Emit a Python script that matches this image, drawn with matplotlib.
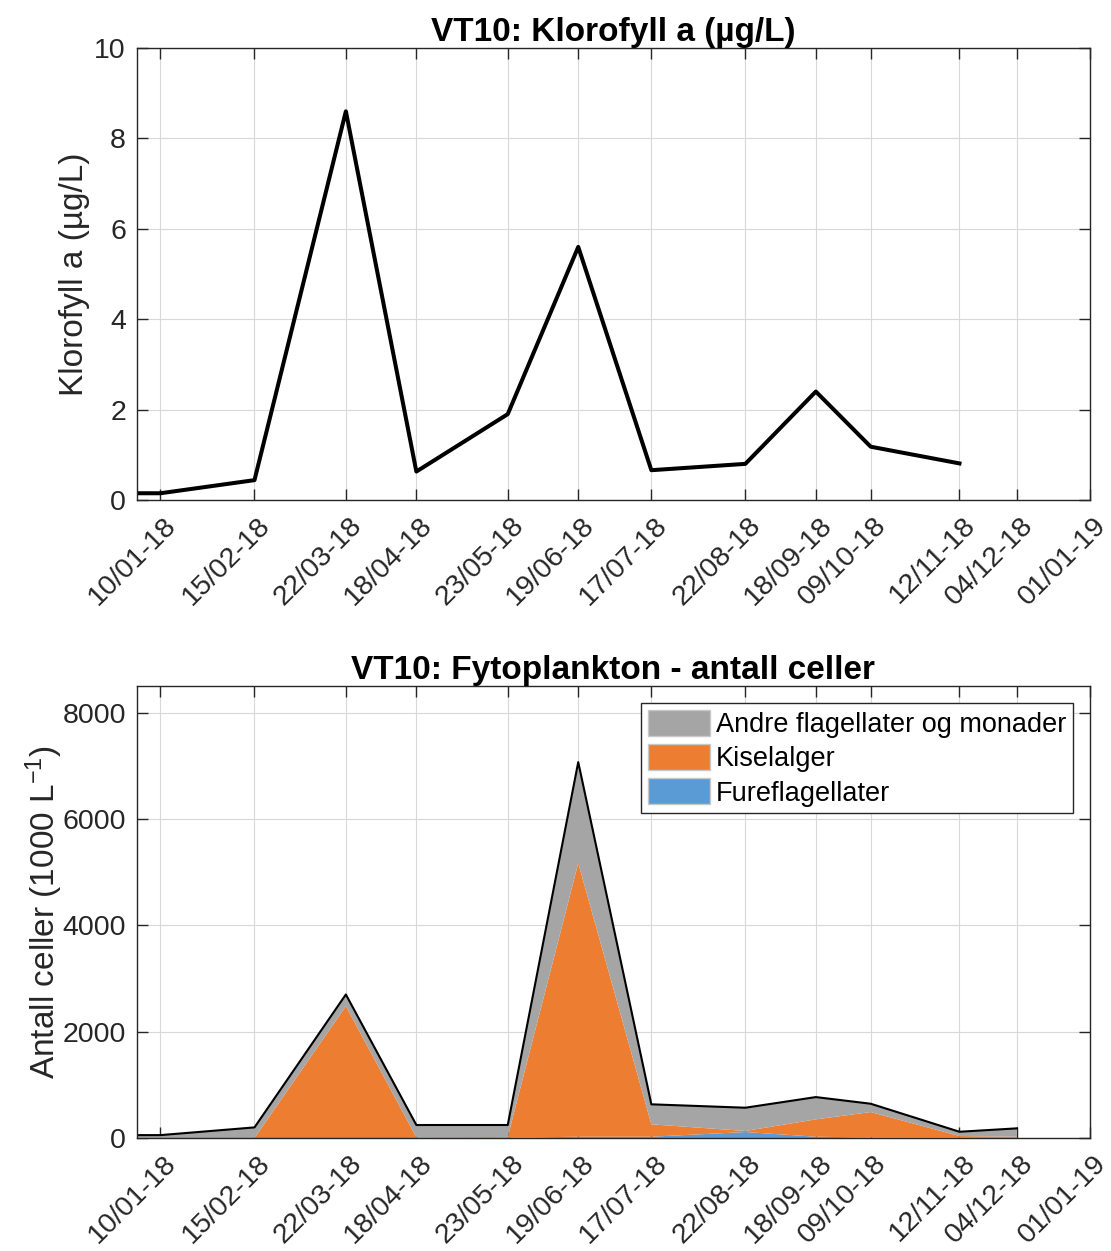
import matplotlib
matplotlib.use("Agg")
from matplotlib import pyplot as plt
from matplotlib.patches import Patch
import matplotlib.transforms as mtransforms
import numpy as np
import datetime as dt

plt.rcParams['font.family'] = ['Liberation Sans', 'DejaVu Sans']
plt.rcParams['mathtext.default'] = 'regular'

# sample dates (first point sits at the left edge of the axis)
dates = [dt.datetime(2018, 1, 1), dt.datetime(2018, 1, 10), dt.datetime(2018, 2, 15),
         dt.datetime(2018, 3, 22), dt.datetime(2018, 4, 18), dt.datetime(2018, 5, 23),
         dt.datetime(2018, 6, 19), dt.datetime(2018, 7, 17), dt.datetime(2018, 8, 22),
         dt.datetime(2018, 9, 18), dt.datetime(2018, 10, 9), dt.datetime(2018, 11, 12),
         dt.datetime(2018, 12, 4)]

# chlorophyll a (ug/L), no value for 04/12
chl = [0.15, 0.15, 0.44, 8.6, 0.63, 1.9, 5.6, 0.66, 0.8, 2.4, 1.18, 0.81, np.nan]

# phytoplankton cell counts (1000 L^-1)
furefl = [0, 0, 0, 0, 0, 5, 25, 25, 113, 25, 10, 5, 5]
kisel = [0, 0, 0, 2480, 15, 15, 5145, 233, 20, 326, 479, 33, 20]
andre = [55, 55, 200, 220, 230, 225, 1900, 376, 437, 419, 156, 80, 157]

tick_dates = [dt.datetime(2018, 1, 10), dt.datetime(2018, 2, 15), dt.datetime(2018, 3, 22),
              dt.datetime(2018, 4, 18), dt.datetime(2018, 5, 23), dt.datetime(2018, 6, 19),
              dt.datetime(2018, 7, 17), dt.datetime(2018, 8, 22), dt.datetime(2018, 9, 18),
              dt.datetime(2018, 10, 9), dt.datetime(2018, 11, 12), dt.datetime(2018, 12, 4),
              dt.datetime(2019, 1, 1)]
tick_labels = [d.strftime('%d/%m-%y') for d in tick_dates]

axcol = '#262626'
fs = 20.5

fig = plt.figure(figsize=(11.11, 12.51), dpi=100)
ax1 = fig.add_axes([0.1233, 0.6003, 0.8578, 0.3613])
ax2 = fig.add_axes([0.1233, 0.0903, 0.8578, 0.3613])
shift = mtransforms.ScaledTranslation(3 / 100, 0, fig.dpi_scale_trans)


def style(ax):
    ax.set_xlim(dt.datetime(2018, 1, 1), dt.datetime(2019, 1, 1))
    ax.set_xticks(tick_dates)
    ax.set_xticklabels(tick_labels, rotation=45, ha='right', va='top',
                       rotation_mode='anchor')
    ax.tick_params(direction='in', top=True, right=True, length=8, width=1,
                   labelsize=fs, colors=axcol)
    ax.tick_params(axis='x', pad=9)
    ax.tick_params(axis='y', pad=8)
    for lab in ax.get_xticklabels():
        lab.set_transform(lab.get_transform() + shift)
    ax.grid(True, color='#d8d8d8', linewidth=0.8)
    ax.set_axisbelow(True)
    for s in ax.spines.values():
        s.set_color(axcol)
        s.set_linewidth(1)


# top: chlorophyll
ax1.plot(dates, chl, color='black', linewidth=2.9)
ax1.set_ylim(0, 10)
ax1.set_yticks([0, 2, 4, 6, 8, 10])
style(ax1)
ax1.set_ylabel('Klorofyll a (µg/L)', fontsize=24, color=axcol, labelpad=3)
ax1.set_title('VT10: Klorofyll a (µg/L)', fontsize=24, fontweight='bold', pad=5)

# bottom: stacked area
colors = ['#5b9bd5', '#ed7d31', '#a5a5a5']
ax2.stackplot(dates, furefl, kisel, andre, colors=colors, linewidth=0)
total = np.array(furefl) + np.array(kisel) + np.array(andre)
ax2.plot(dates, total, color='black', linewidth=1.5)
ax2.set_ylim(0, 8500)
ax2.set_yticks([0, 2000, 4000, 6000, 8000])
style(ax2)
ax2.set_ylabel('Antall celler (1000 L$^{-1}$)', fontsize=24, color=axcol, labelpad=-2)
ax2.set_title('VT10: Fytoplankton - antall celler', fontsize=24, fontweight='bold', pad=5)

handles = [Patch(facecolor=colors[2], edgecolor='#c8c8c8'),
           Patch(facecolor=colors[1], edgecolor='#c8c8c8'),
           Patch(facecolor=colors[0], edgecolor='#c8c8c8')]
leg = ax2.legend(handles, ['Andre flagellater og monader', 'Kiselalger', 'Fureflagellater'],
                 loc='upper right', fontsize=19.5, handlelength=2.3, handleheight=1.1,
                 handletextpad=0.2, labelspacing=0.22, borderpad=0.25,
                 borderaxespad=0, fancybox=False, framealpha=1,
                 bbox_to_anchor=(0.982, 0.962))
leg.get_frame().set_edgecolor(axcol)
leg.get_frame().set_linewidth(1)

fig.savefig('out.png', dpi=100)
